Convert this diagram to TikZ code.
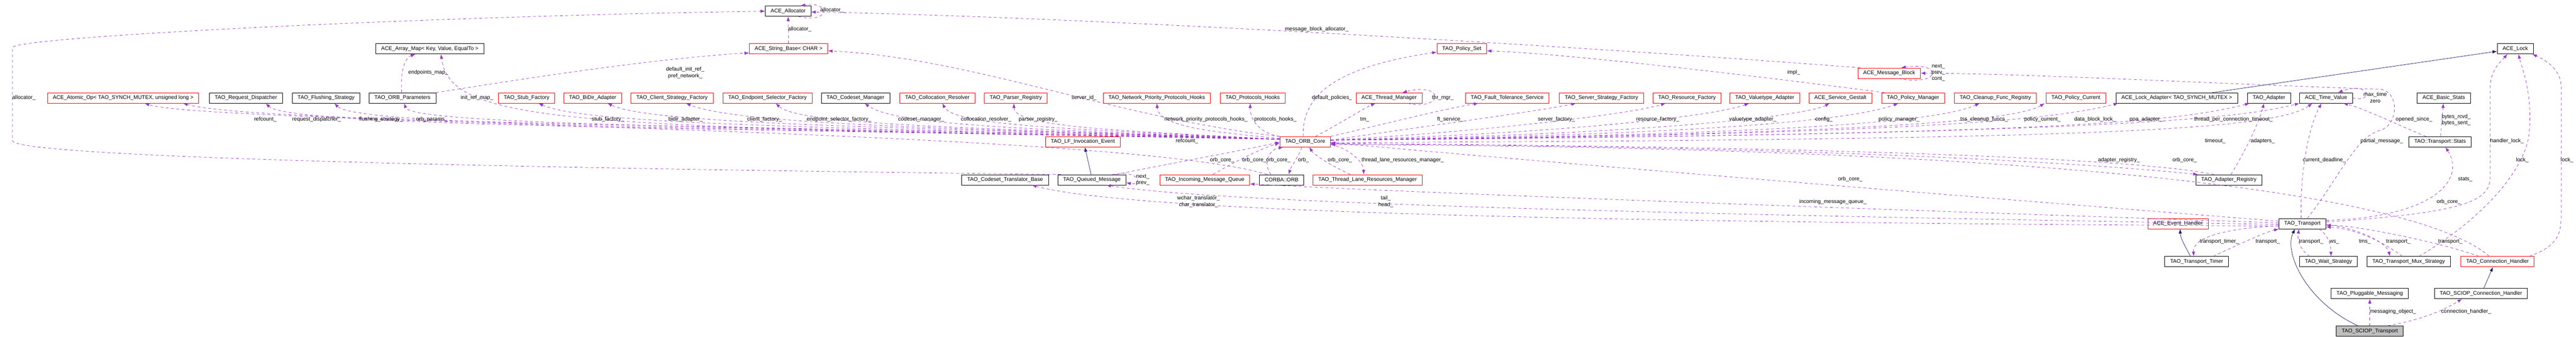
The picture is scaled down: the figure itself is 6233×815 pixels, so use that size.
\documentclass[tikz,border=0pt]{standalone}
\usepackage{fontspec}
\setmainfont{Liberation Sans}
\usepackage{tikz}
\usetikzlibrary{calc, shapes, arrows.meta}

\definecolor{usecolor}{HTML}{9A32CD}
\definecolor{basecolor}{HTML}{191970}
\definecolor{selfgray}{HTML}{BFBFBF}

\begin{document}
\begin{tikzpicture}[x=1pt,y=-1pt]
\tikzstyle{vertex}=[rectangle,draw=black,line width=1pt,minimum height=25pt,inner xsep=13pt,inner ysep=0pt,font=\fontsize{13}{15.5}\selectfont]
\tikzstyle{redvertex}=[vertex,draw=red]
\tikzstyle{useline}=[draw=usecolor,line width=0.9pt,dash pattern=on 7pt off 6pt,-{Latex[length=11pt,width=8pt]}]
\tikzstyle{baseline}=[draw=basecolor,line width=0.9pt,-{Latex[length=11pt,width=8pt]}]
\tikzstyle{lbl}=[inner sep=0pt,align=center,font=\fontsize{13}{15.5}\selectfont]
\useasboundingbox (0,0) rectangle (6233,815);

% classes
\node[vertex] (alloc) at (1907,27) {ACE\_Allocator};
\node[vertex] (array_map) at (1040,118) {ACE\_Array\_Map< Key, Value, EqualTo >};
\node[redvertex] (string_base) at (1908,118) {ACE\_String\_Base< CHAR >};
\node[redvertex] (policy_set) at (3537,118) {TAO\_Policy\_Set};
\node[vertex] (ace_lock) at (6086,118) {ACE\_Lock};
\node[redvertex] (msg_block) at (4571,177) {ACE\_Message\_Block};

\node[redvertex] (atomic) at (298,237) {ACE\_Atomic\_Op< TAO\_SYNCH\_MUTEX, unsigned long >};
\node[vertex] (req_disp) at (595,237) {TAO\_Request\_Dispatcher};
\node[vertex] (flushing) at (789,237) {TAO\_Flushing\_Strategy};
\node[vertex] (orb_params) at (974,237) {TAO\_ORB\_Parameters};
\node[redvertex] (stub_factory) at (1274,237) {TAO\_Stub\_Factory};
\node[redvertex] (bidir) at (1434,237) {TAO\_BiDir\_Adapter};
\node[redvertex] (client_sf) at (1626,237) {TAO\_Client\_Strategy\_Factory};
\node[redvertex] (endpoint_sf) at (1857,237) {TAO\_Endpoint\_Selector\_Factory};
\node[vertex] (codeset_mgr) at (2070,237) {TAO\_Codeset\_Manager};
\node[redvertex] (colloc) at (2268,237) {TAO\_Collocation\_Resolver};
\node[redvertex] (parser_reg) at (2458,237) {TAO\_Parser\_Registry};
\node[redvertex] (net_prio) at (2799,237) {TAO\_Network\_Priority\_Protocols\_Hooks};
\node[redvertex] (proto_hooks) at (3031,237) {TAO\_Protocols\_Hooks};
\node[redvertex] (thr_mgr) at (3361,237) {ACE\_Thread\_Manager};
\node[redvertex] (ft_service) at (3647,237) {TAO\_Fault\_Tolerance\_Service};
\node[redvertex] (server_sf) at (3875,237) {TAO\_Server\_Strategy\_Factory};
\node[redvertex] (resource_f) at (4082,237) {TAO\_Resource\_Factory};
\node[redvertex] (valuetype) at (4270,237) {TAO\_Valuetype\_Adapter};
\node[redvertex] (gestalt) at (4453,237) {ACE\_Service\_Gestalt};
\node[redvertex] (policy_mgr) at (4629,237) {TAO\_Policy\_Manager};
\node[redvertex] (cleanup) at (4828,237) {TAO\_Cleanup\_Func\_Registry};
\node[redvertex] (policy_cur) at (5023,237) {TAO\_Policy\_Current};
\node[vertex] (lock_adapter) at (5267,237) {ACE\_Lock\_Adapter< TAO\_SYNCH\_MUTEX >};
\node[vertex] (adapter) at (5490,237) {TAO\_Adapter};
\node[vertex] (time_value) at (5628,237) {ACE\_Time\_Value};
\node[vertex] (basic_stats) at (5913,237) {ACE\_Basic\_Stats};

\node[redvertex] (lf_event) at (2620,343) {TAO\_LF\_Invocation\_Event};
\node[redvertex] (orb_core) at (3158,343) {TAO\_ORB\_Core};
\node[vertex] (stats) at (5904,343) {TAO::Transport::Stats};

\node[vertex] (cs_translator) at (2432,435) {TAO\_Codeset\_Translator\_Base};
\node[vertex] (queued_msg) at (2642,435) {TAO\_Queued\_Message};
\node[redvertex] (incoming_q) at (2915,435) {TAO\_Incoming\_Message\_Queue};
\node[vertex] (corba_orb) at (3101,435) {CORBA::ORB};
\node[redvertex] (tlr_mgr) at (3309,435) {TAO\_Thread\_Lane\_Resources\_Manager};
\node[vertex] (adapter_reg) at (5393,435) {TAO\_Adapter\_Registry};

\node[redvertex] (event_handler) at (5270,541) {ACE\_Event\_Handler};
\node[vertex] (transport) at (5571,541) {TAO\_Transport};

\node[vertex] (transport_timer) at (5315,633) {TAO\_Transport\_Timer};
\node[vertex] (wait_strategy) at (5634,633) {TAO\_Wait\_Strategy};
\node[vertex] (mux_strategy) at (5828,633) {TAO\_Transport\_Mux\_Strategy};
\node[redvertex] (conn_handler) at (6043,633) {TAO\_Connection\_Handler};

\node[vertex] (messaging) at (5734,710) {TAO\_Pluggable\_Messaging};
\node[vertex] (sciop_handler) at (6003,710) {TAO\_SCIOP\_Connection\_Handler};
\node[vertex,fill=selfgray] (sciop_transport) at (5734,801) {TAO\_SCIOP\_Transport};

% inheritance
\path [baseline] ([xshift=-29pt]sciop_transport.north) .. controls (5580,730) and (5525,610) .. ([xshift=-18pt]transport.south);
\path [baseline] ([xshift=-15pt]transport_timer.north) .. controls (5290,600) and (5276,578) .. ([xshift=5pt]event_handler.south);
\path [baseline] ([xshift=7pt]sciop_handler.north) -- ([xshift=-11pt]conn_handler.south);
\path [baseline] ([xshift=-2pt]queued_msg.north) -- ([xshift=5pt]lf_event.south);
\path [baseline] ([xshift=86pt]lock_adapter.north) -- ([yshift=-6pt]ace_lock.west);

% ORB core, left side
\path [useline] ([yshift=6pt]orb_core.west) .. controls (2000,305) and (620,300) .. ([xshift=145pt]atomic.south);
\path [useline] ([yshift=6pt]orb_core.west) .. controls (1600,308) and (700,305) .. ([xshift=48pt]req_disp.south);
\path [useline] ([yshift=6pt]orb_core.west) .. controls (1700,308) and (865,305) .. ([xshift=20pt]flushing.south);
\path [useline] ([yshift=6pt]orb_core.west) .. controls (1800,308) and (995,302) .. ([xshift=4pt]orb_params.south);
\path [useline] ([yshift=6pt]orb_core.west) .. controls (1400,306) and (1090,305) .. ([xshift=27pt]array_map.south);
\path [useline] ([yshift=6pt]orb_core.west) .. controls (2000,308) and (1420,302) .. ([xshift=29pt]stub_factory.south);
\path [useline] ([yshift=6pt]orb_core.west) .. controls (2200,308) and (1580,302) .. ([xshift=36pt]bidir.south);
\path [useline] ([yshift=6pt]orb_core.west) .. controls (2300,310) and (1790,302) .. ([xshift=34pt]client_sf.south);
\path [useline] ([yshift=6pt]orb_core.west) .. controls (2400,310) and (1935,305) .. ([xshift=20pt]endpoint_sf.south);
\path [useline] ([yshift=6pt]orb_core.west) .. controls (2500,312) and (2170,305) .. ([xshift=22pt]codeset_mgr.south);
\path [useline] ([yshift=6pt]orb_core.west) .. controls (2600,312) and (2310,305) .. ([xshift=12pt]colloc.south);
\path [useline] ([yshift=6pt]orb_core.west) .. controls (2700,315) and (2455,308) .. ([xshift=-5pt]parser_reg.south);
\path [useline] (orb_core.north west) .. controls (2700,285) and (2350,140) .. ([yshift=-5pt]string_base.east);
\path [useline] ([yshift=8pt]orb_core.west) .. controls (2950,320) and (2805,310) .. (net_prio.south);
\path [useline] (orb_core.north west) .. controls (3060,325) and (3025,300) .. ([xshift=-6pt]proto_hooks.south);

% ORB core, right side
\path [useline] ([xshift=-5pt]orb_core.north) .. controls (3150,220) and (3250,160) .. ([yshift=-8pt]policy_set.west);
\path [useline] ([xshift=25pt]orb_core.north) .. controls (3240,300) and (3300,262) .. ([xshift=-33pt]thr_mgr.south);
\path [useline] ([xshift=45pt]thr_mgr.south) .. controls (3495,268) and (3495,198) .. ([xshift=32pt]thr_mgr.north);
\path [useline] (orb_core.north east) .. controls (3350,300) and (3500,262) .. ([xshift=-70pt]ft_service.south);
\path [useline] ([yshift=4pt]orb_core.east) .. controls (3450,305) and (3730,268) .. ([xshift=-62pt]server_sf.south);
\path [useline] ([yshift=4pt]orb_core.east) .. controls (3600,318) and (3950,275) .. ([xshift=-52pt]resource_f.south);
\path [useline] ([yshift=4pt]orb_core.east) .. controls (3800,322) and (4150,280) .. ([xshift=-38pt]valuetype.south);
\path [useline] ([yshift=4pt]orb_core.east) .. controls (4000,325) and (4370,280) .. ([xshift=-26pt]gestalt.south);
\path [useline] ([yshift=4pt]orb_core.east) .. controls (4200,325) and (4500,285) .. ([xshift=-36pt]policy_mgr.south);
\path [useline] ([yshift=4pt]orb_core.east) .. controls (4400,325) and (4700,290) .. ([xshift=-38pt]cleanup.south);
\path [useline] ([yshift=4pt]orb_core.east) .. controls (4550,325) and (4880,290) .. ([xshift=-76pt]policy_cur.south);
\path [useline] ([yshift=4pt]orb_core.east) .. controls (4700,325) and (4985,285) .. ([xshift=-142pt]lock_adapter.south);
\path [useline] ([yshift=4pt]orb_core.east) .. controls (4900,325) and (5250,300) .. ([xshift=-47pt]adapter.south);
\path [useline] ([yshift=4pt]orb_core.east) .. controls (5000,325) and (5400,292) .. (time_value.south west);
\path [useline] ([yshift=-2pt]orb_core.east) .. controls (5000,338) and (5500,318) .. ([xshift=-33pt]time_value.south);
\path [useline] ([yshift=-5pt]orb_core.east) .. controls (4500,355) and (5100,400) .. ([xshift=5pt]adapter_reg.north west);
\path [useline] ([xshift=-36pt]adapter_reg.north) .. controls (5100,370) and (4000,352) .. ([yshift=-4pt]orb_core.east);
\path [useline] ([xshift=5pt]adapter_reg.north) .. controls (5430,370) and (5465,300) .. ([xshift=-12pt]adapter.south);

% ORB core, below
\path [useline] ([yshift=-6pt]orb_core.east) .. controls (3265,360) and (3298,390) .. ([xshift=-9pt]tlr_mgr.north);
\path [useline] ([xshift=-42pt]tlr_mgr.north) .. controls (3220,400) and (3180,375) .. ([xshift=10pt]orb_core.south);
\path [useline] ([xshift=-8pt]orb_core.south) .. controls (3142,380) and (3125,400) .. ([xshift=17pt]corba_orb.north);
\path [useline] ([xshift=-26pt]corba_orb.north) .. controls (3055,395) and (3070,362) .. ([xshift=-53pt]orb_core.south);
\path [useline] ([xshift=20pt]incoming_q.north) .. controls (2990,390) and (3050,360) .. ([yshift=-3pt]orb_core.west);
\path [useline] ([xshift=58pt]queued_msg.north) .. controls (2850,392) and (3000,365) .. ([yshift=-1pt]orb_core.west);
\path [useline] ([xshift=-35pt]corba_orb.north) .. controls (2700,310) and (500,300) .. ([xshift=52pt]atomic.south);
\path [useline] ([xshift=50pt]queued_msg.north) .. controls (2760,410) and (2765,450) .. ([yshift=-7pt]queued_msg.east);
\path [useline] ([xshift=-75pt]queued_msg.north) .. controls (1500,410) and (30,385) .. (30,340) -- (30,115) .. controls (30,90) and (1000,40) .. (alloc.west);

% upper classes
\path [useline] (string_base.north) -- (alloc.south);
\path [useline] ([xshift=25pt]alloc.south) .. controls (2010,58) and (2010,2) .. ([xshift=30pt]alloc.north);
\path [useline] ([xshift=-70pt]msg_block.north) .. controls (3800,110) and (2600,40) .. ([yshift=-2pt]alloc.east);
\path [useline] ([xshift=22pt]msg_block.south) .. controls (4700,210) and (4700,148) .. ([xshift=29pt]msg_block.north);
\path [useline] ([xshift=-70pt]policy_mgr.north) .. controls (4300,190) and (3800,130) .. ([yshift=-5pt]policy_set.east);
\path [useline] (orb_params.north east) .. controls (1300,185) and (1600,140) .. ([yshift=-10pt]string_base.west);
\path [useline] ([xshift=-2pt]orb_params.north) .. controls (968,170) and (980,140) .. ([xshift=-35pt]array_map.south);

% transport
\path [useline] ([yshift=6pt]transport.west) .. controls (4500,455) and (3600,380) .. ([yshift=-2pt]orb_core.east);
\path [useline] ([yshift=2pt]transport.west) .. controls (4500,505) and (3500,470) .. ([yshift=3pt]incoming_q.south east);
\path [useline] ([yshift=-2pt]transport.west) .. controls (4500,525) and (3000,500) .. ([xshift=35pt]queued_msg.south);
\path [useline] ([yshift=-6pt]transport.west) .. controls (4500,540) and (2800,530) .. ([xshift=65pt]cs_translator.south);
\path [useline] ([yshift=-5pt]transport.west) .. controls (5400,552) and (5305,570) .. ([xshift=-7pt]transport_timer.north);
\path [useline] ([xshift=40pt]transport_timer.north) .. controls (5420,590) and (5480,562) .. (transport.south west);
\path [useline] ([xshift=40pt]transport.south) .. controls (5635,570) and (5640,595) .. ([xshift=6pt]wait_strategy.north);
\path [useline] ([xshift=-45pt]wait_strategy.north) .. controls (5565,605) and (5558,580) .. ([xshift=-8pt]transport.south);
\path [useline] ([yshift=-2pt]transport.east) .. controls (5720,555) and (5775,590) .. ([xshift=-45pt]mux_strategy.north);
\path [useline] ([xshift=-15pt]mux_strategy.north) .. controls (5760,580) and (5690,552) .. ([yshift=-8pt]transport.east);
\path [useline] ([xshift=-45pt]conn_handler.north) .. controls (5900,585) and (5700,545) .. ([yshift=-4pt]transport.east);
\path [useline] ([xshift=-20pt]conn_handler.north) .. controls (5850,470) and (5000,355) .. ([yshift=-7pt]orb_core.east);
\path [useline] ([yshift=4pt]transport.east) .. controls (5950,515) and (6025,490) .. (6025,430) -- (6025,215) .. controls (6025,170) and (6050,150) .. ([xshift=-19pt]ace_lock.south);
\path [useline] ([xshift=25pt]mux_strategy.north) .. controls (5990,540) and (6110,420) .. (6120,320) .. controls (6128,220) and (6100,160) .. ([xshift=8pt]ace_lock.south);
\path [useline] ([xshift=77pt]conn_handler.north) .. controls (6190,595) and (6197,565) .. (6197,520) -- (6197,210) .. controls (6197,175) and (6170,150) .. ([xshift=-3pt]ace_lock.south east);
\path [useline] ([yshift=8pt]transport.east) .. controls (5900,525) and (5965,430) .. ([xshift=13pt]stats.south);
\path [useline] ([xshift=1pt]stats.north) -- ([xshift=-1pt]basic_stats.south);
\path [useline] ([xshift=-34pt]stats.north) .. controls (5800,302) and (5720,262) .. ([xshift=42pt]time_value.south);
\path [useline] ([xshift=-3pt]transport.north) .. controls (5565,400) and (5590,300) .. ([xshift=-11pt]time_value.south);
\path [useline] (time_value.east) .. controls (5745,250) and (5735,195) .. ([xshift=29pt]time_value.north);
\path [useline] ([xshift=12pt]transport.north) .. controls (5660,430) and (5700,330) .. (5760,315) .. controls (5805,300) and (5805,222) .. (5760,216) .. controls (5300,200) and (4900,178) .. (msg_block.east);
\path [useline] (sciop_transport.north) -- (messaging.south);
\path [useline] ([xshift=43pt]sciop_transport.north) .. controls (5880,770) and (5930,740) .. ([xshift=-46pt]sciop_handler.south);

% member names
\node[lbl] (t_refcount_a) at (642,289) {refcount\_};
\node[lbl] (t_req_disp) at (766,289) {request\_dispatcher\_};
\node[lbl] (t_flushing) at (922,289) {flushing\_strategy\_};
\node[lbl] (t_orb_params) at (1045,289) {orb\_params\_};
\node[lbl] (t_init_ref) at (1154,236) {init\_ref\_map\_};
\node[lbl] (t_endpoints) at (1036,175) {endpoints\_map\_};
\node[lbl] (t_stub) at (1471,289) {stub\_factory\_};
\node[lbl] (t_bidir) at (1659,289) {bidir\_adapter\_};
\node[lbl] (t_default_ref) at (1658,176) {default\_init\_ref\_\\pref\_network\_};
\node[lbl] (t_client) at (1850,289) {client\_factory\_};
\node[lbl] (t_endpoint_sel) at (2030,289) {endpoint\_selector\_factory\_};
\node[lbl] (t_alloc_a) at (1935,71) {allocator\_};
\node[lbl] (t_alloc_b) at (2013,25) {allocator\_};
\node[lbl] (t_alloc_c) at (58,236) {allocator\_};
\node[lbl] (t_codeset) at (2229,289) {codeset\_manager\_};
\node[lbl] (t_colloc) at (2386,289) {collocation\_resolver\_};
\node[lbl] (t_parser) at (2512,289) {parser\_registry\_};
\node[lbl] (t_server_id) at (2623,236) {server\_id\_};
\node[lbl] (t_net_prio) at (2918,289) {network\_priority\_protocols\_hooks\_};
\node[lbl] (t_proto) at (3086,289) {protocols\_hooks\_};
\node[lbl] (t_refcount_b) at (2872,341) {refcount\_};
\node[lbl] (t_core_a) at (2957,387) {orb\_core\_};
\node[lbl] (t_core_b) at (3035,387) {orb\_core\_};
\node[lbl] (t_core_c) at (3093,387) {orb\_core\_};
\node[lbl] (t_next_prev) at (2765,435) {next\_\\prev\_};
\node[lbl] (t_translator) at (2900,488) {wchar\_translator\_\\char\_translator\_};
\node[lbl] (t_mb_alloc) at (3186,71) {message\_block\_allocator\_};
\node[lbl] (t_policies) at (3223,236) {default\_policies\_};
\node[lbl] (t_tm) at (3302,289) {tm\_};
\node[lbl] (t_thr_mgr) at (3491,236) {thr\_mgr\_};
\node[lbl] (t_ft) at (3509,289) {ft\_service\_};
\node[lbl] (t_orb) at (3154,387) {orb\_};
\node[lbl] (t_core_d) at (3242,387) {orb\_core\_};
\node[lbl] (t_tlrm) at (3394,387) {thread\_lane\_resources\_manager\_};
\node[lbl] (t_tail_head) at (3353,488) {tail\_\\head\_};
\node[lbl] (t_server_f) at (3766,289) {server\_factory\_};
\node[lbl] (t_resource_f) at (4011,289) {resource\_factory\_};
\node[lbl] (t_valuetype) at (4241,289) {valuetype\_adapter\_};
\node[lbl] (t_impl) at (4340,175) {impl\_};
\node[lbl] (t_config) at (4413,289) {config\_};
\node[lbl] (t_policy_mgr) at (4595,289) {policy\_manager\_};
\node[lbl] (t_mb_loop) at (4690,176) {next\_\\prev\_\\cont\_};
\node[lbl] (t_core_e) at (4477,434) {orb\_core\_};
\node[lbl] (t_incoming) at (4435,488) {incoming\_message\_queue\_};
\node[lbl] (t_tss) at (4801,289) {tss\_cleanup\_funcs\_};
\node[lbl] (t_policy_cur) at (4942,289) {policy\_current\_};
\node[lbl] (t_db_lock) at (5069,289) {data\_block\_lock\_};
\node[lbl] (t_poa) at (5193,289) {poa\_adapter\_};
\node[lbl] (t_adreg) at (5127,387) {adapter\_registry\_};
\node[lbl] (t_tpc_timeout) at (5404,289) {thread\_per\_connection\_timeout\_};
\node[lbl] (t_timeout) at (5360,341) {timeout\_};
\node[lbl] (t_adapters) at (5475,341) {adapters\_};
\node[lbl] (t_core_f) at (5286,387) {orb\_core\_};
\node[lbl] (t_deadline) at (5624,387) {current\_deadline\_};
\node[lbl] (t_partial) at (5763,341) {partial\_message\_};
\node[lbl] (t_max_zero) at (5747,236) {max\_time\\zero};
\node[lbl] (t_opened) at (5841,289) {opened\_since\_};
\node[lbl] (t_bytes) at (5943,290) {bytes\_rcvd\_\\bytes\_sent\_};
\node[lbl] (t_stats) at (5965,434) {stats\_};
\node[lbl] (t_core_g) at (5925,488) {orb\_core\_};
\node[lbl] (t_handler_lock) at (6066,341) {handler\_lock\_};
\node[lbl] (t_lock_a) at (6103,387) {lock\_};
\node[lbl] (t_lock_b) at (6211,387) {lock\_};
\node[lbl] (t_timer) at (5370,585) {transport\_timer\_};
\node[lbl] (t_transport_a) at (5487,585) {transport\_};
\node[lbl] (t_transport_b) at (5592,585) {transport\_};
\node[lbl] (t_ws) at (5648,585) {ws\_};
\node[lbl] (t_tms) at (5722,585) {tms\_};
\node[lbl] (t_transport_c) at (5803,585) {transport\_};
\node[lbl] (t_transport_d) at (5929,585) {transport\_};
\node[lbl] (t_messaging) at (5790,754) {messaging\_object\_};
\node[lbl] (t_conn) at (5967,754) {connection\_handler\_};
\end{tikzpicture}
\end{document}
